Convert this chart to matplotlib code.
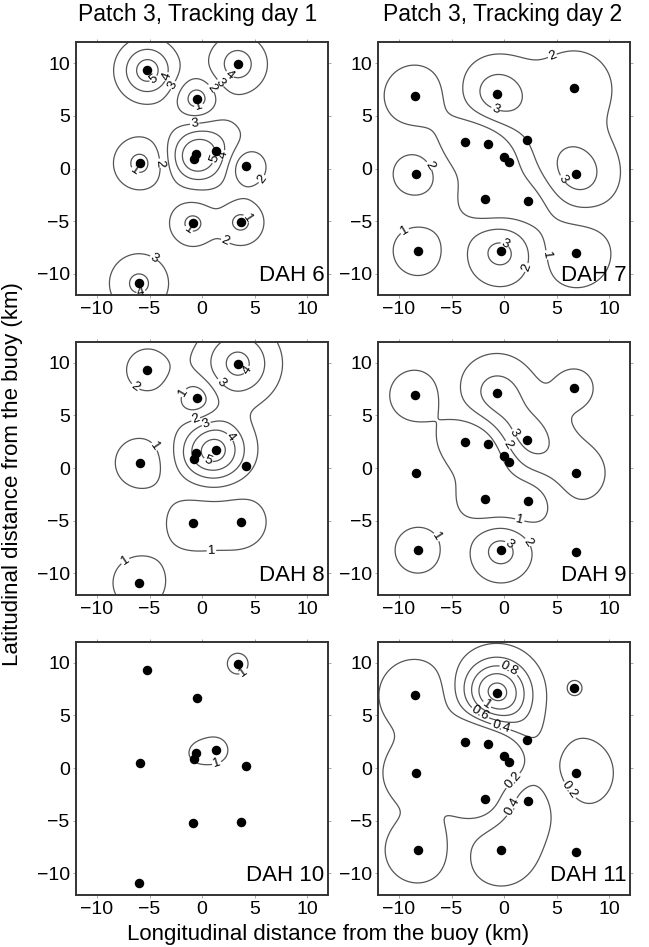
import numpy as np
import matplotlib.pyplot as plt

plt.rcParams['font.family'] = ['Liberation Sans', 'DejaVu Sans']

# station positions (km from buoy)
day1_x = [-5.2, 3.4, -0.5, -5.9, -0.6, -0.8, 1.3, 4.2, -0.9, 3.7, -6.0]
day1_y = [9.3, 9.9, 6.6, 0.5, 1.4, 0.9, 1.7, 0.2, -5.2, -5.1, -10.9]

day2_x = [-8.5, -0.7, 6.7, -3.7, -1.5, 2.2, 0.0, 0.5, -8.4, 6.9, -1.8, 2.3, -8.2, -0.3, 6.9]
day2_y = [6.9, 7.1, 7.6, 2.5, 2.3, 2.7, 1.1, 0.6, -0.5, -0.5, -2.9, -3.1, -7.8, -7.8, -8.0]

# station anomalies (relative to background) and their spread (km)
dah6_base = 2.5
dah6_amp = [3.0, 2.0, -2.0, -1.75, 1.4, 1.4, 1.3, -1.72, -1.72, -1.72, 1.7]
dah6_sig = [1.7, 1.7, 1.3, 1.6, 1.6, 1.6, 2.2, 1.3, 1.4, 1.4, 1.8]
dah6_lev = [1, 2, 3, 4, 5]

dah8_base = 1.5
dah8_amp = [0.75, 2.8, -1.4, -1.0, 0.3, 0.3, 3.8, 0.0, -0.9, -0.9, -1.0]
dah8_sig = [2.2, 2.3, 1.3, 2.0, 1.5, 1.5, 2.0, 1.5, 2.2, 2.2, 2.1]
dah8_lev = [1, 2, 3, 4, 5]

dah10_base = 0.5
dah10_amp = [0.0, 0.7, 0.0, 0.0, 0.45, 0.0, 0.7, 0.0, 0.0, 0.0, 0.0]
dah10_sig = [1.0, 1.2, 1.0, 1.0, 1.0, 1.0, 1.4, 1.0, 1.0, 1.0, 1.0]
dah10_lev = [1]

dah7_base = 1.5
dah7_amp = [-1.2, 2.0, 1.0, -1.2, -1.1, 0.5, -0.3, -0.3, 0.9, 2.0, -1.2, -1.2, -1.0, 1.9, -1.2]
dah7_sig = [2.2, 2.2, 3.0, 2.0, 1.8, 3.0, 1.5, 1.5, 2.0, 2.5, 2.0, 2.4, 2.0, 2.1, 2.5]
dah7_lev = [1, 2, 3]

dah9_base = 1.5
dah9_amp = [-1.2, 1.9, 1.0, -1.2, -0.8, 1.9, -0.3, -0.3, 0.5, 0.9, -1.2, -1.2, -0.9, 1.9, 0.0]
dah9_sig = [1.8, 2.3, 1.5, 2.0, 1.8, 2.3, 1.5, 1.5, 1.5, 2.5, 2.0, 2.0, 2.0, 1.9, 2.0]
dah9_lev = [1, 2, 3]

dah11_base = 0.3
dah11_amp = [-0.3, 1.0, -0.2, -0.3, -0.3, 0.15, -0.15, -0.15, -0.3, -0.2, -0.3, 0.25, -0.3, 0.25, 0.0]
dah11_sig = [2.3, 2.2, 0.6, 2.2, 2.0, 2.0, 1.5, 1.5, 2.1, 3.0, 2.2, 2.5, 2.1, 2.5, 2.0]
dah11_lev = [0.2, 0.4, 0.6, 0.8, 1.0, 1.2]

panels = [
    ("DAH 6", day1_x, day1_y, dah6_base, dah6_amp, dah6_sig, dah6_lev),
    ("DAH 7", day2_x, day2_y, dah7_base, dah7_amp, dah7_sig, dah7_lev),
    ("DAH 8", day1_x, day1_y, dah8_base, dah8_amp, dah8_sig, dah8_lev),
    ("DAH 9", day2_x, day2_y, dah9_base, dah9_amp, dah9_sig, dah9_lev),
    ("DAH 10", day1_x, day1_y, dah10_base, dah10_amp, dah10_sig, dah10_lev),
    ("DAH 11", day2_x, day2_y, dah11_base, dah11_amp, dah11_sig, dah11_lev),
]

gx = np.linspace(-12, 12, 241)
gX, gY = np.meshgrid(gx, gx)


def field(sx, sy, base, amp, sig):
    z = np.full(gX.shape, float(base))
    for x, y, a, s in zip(sx, sy, amp, sig):
        z += a * np.exp(-((gX - x) ** 2 + (gY - y) ** 2) / (2 * s ** 2))
    return z


fig = plt.figure(figsize=(6.49, 9.47), dpi=100)
lefts = [76 / 649, 378 / 649]
bottoms = [1 - 295 / 947, 1 - 594.5 / 947, 1 - 894.5 / 947]
w, h = 252 / 649, 253 / 947

for i, (name, sx, sy, base, amp, sig, lev) in enumerate(panels):
    ax = fig.add_axes([lefts[i % 2], bottoms[i // 2], w, h])
    z = field(sx, sy, base, amp, sig)
    cs = ax.contour(gX, gY, z, levels=lev, colors='#555555', linewidths=0.9)
    fmt = (lambda v: '%g' % v)
    ax.clabel(cs, fontsize=9.5, fmt=fmt, colors='black', inline=True, inline_spacing=1)
    ax.scatter(sx, sy, s=34, color='black', zorder=3)
    ax.set_xlim(-12, 12)
    ax.set_ylim(-12, 12)
    ax.set_xticks([-10, -5, 0, 5, 10])
    ax.set_yticks([-10, -5, 0, 5, 10])
    ax.tick_params(direction='out', length=2.5, width=0.6, color='#999999',
                   labelsize=14, top=True, right=True, pad=2)
    for sp in ax.spines.values():
        sp.set_linewidth(1.4)
        sp.set_color('#333333')
    ax.text(0.985, 0.055, name, transform=ax.transAxes, ha='right', va='baseline', fontsize=16)

fig.text(198 / 649, 1 - 14 / 947, "Patch 3, Tracking day 1", ha='center', va='center', fontsize=16.5)
fig.text(503 / 649, 1 - 14 / 947, "Patch 3, Tracking day 2", ha='center', va='center', fontsize=16.5)
fig.text(328 / 649, 1 - 934 / 947, "Longitudinal distance from the buoy (km)", ha='center', va='center', fontsize=16)
fig.text(13 / 649, 1 - 474 / 947, "Latitudinal distance from the buoy (km)", ha='center', va='center',
         rotation=90, fontsize=16)

fig.savefig('out.png', dpi=100)
